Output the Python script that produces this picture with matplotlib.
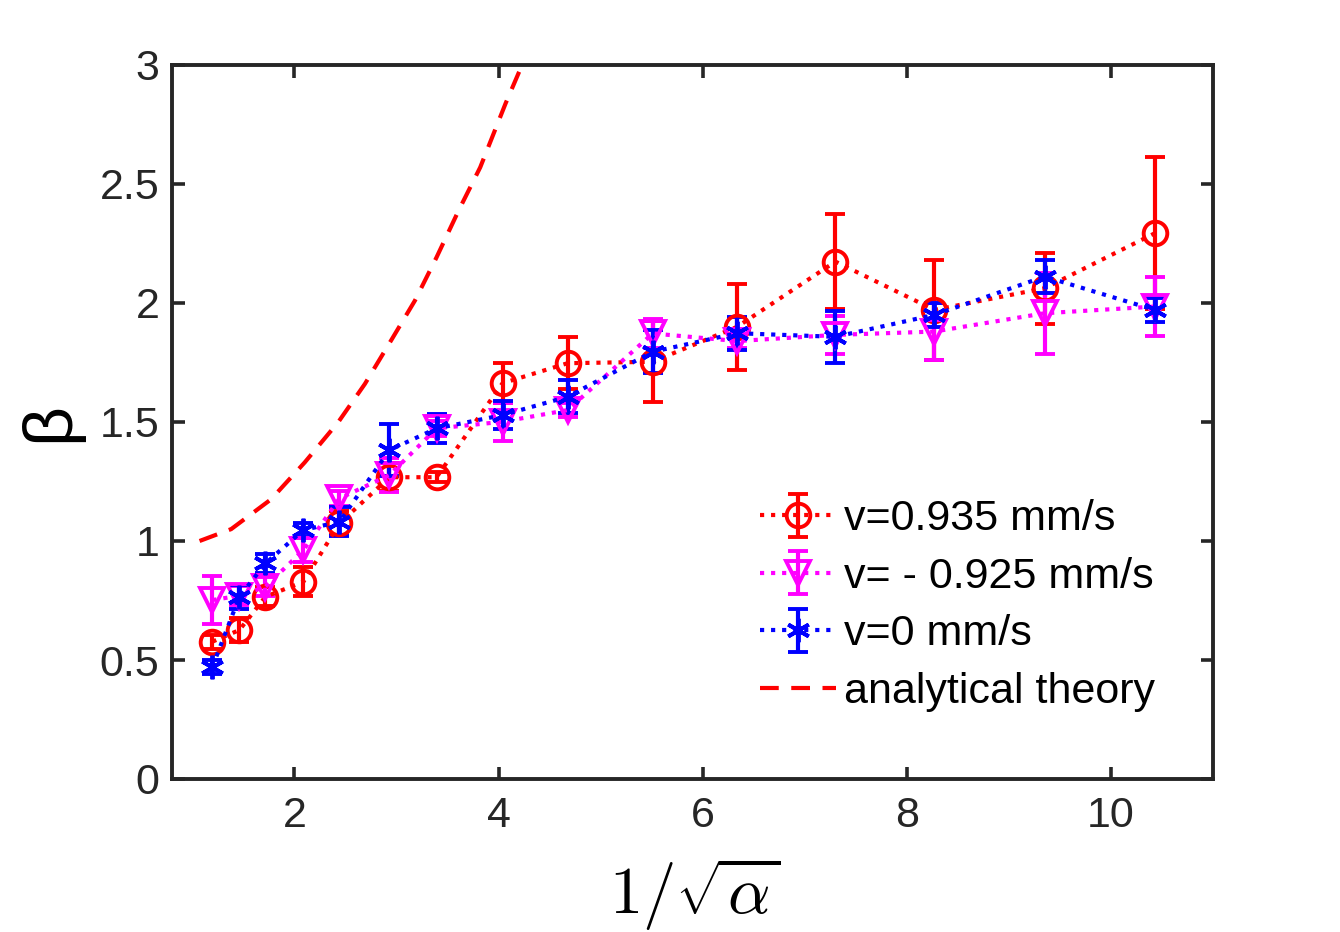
import matplotlib
matplotlib.use("Agg")
import matplotlib.pyplot as plt

# ---- data ----
x_vals = [1.196, 1.461, 1.716, 2.088, 2.441, 2.931, 3.392, 4.039, 4.676, 5.510,
          6.338, 7.300, 8.270, 9.350, 10.430]

beta_pos = [0.577, 0.626, 0.766, 0.829, 1.074, 1.268, 1.268, 1.663, 1.747, 1.753,
            1.900, 2.174, 1.971, 2.062, 2.293]
err_pos = [0.03, 0.05, 0.04, 0.06, 0.05, 0.06, 0.02, 0.085, 0.11, 0.17,
           0.18, 0.20, 0.21, 0.15, 0.32]

beta_neg = [0.752, 0.770, 0.808, 0.962, 1.179, 1.277, 1.473, 1.501, 1.550, 1.872,
            1.840, 1.866, 1.880, 1.957, 1.985]
err_neg = [0.10, 0.04, 0.04, 0.05, 0.03, 0.07, 0.03, 0.08, 0.03, 0.06,
           0.03, 0.08, 0.12, 0.17, 0.125]

beta_zero = [0.472, 0.766, 0.906, 1.046, 1.081, 1.382, 1.473, 1.529, 1.606, 1.795,
             1.873, 1.858, 1.950, 2.111, 1.971]
err_zero = [0.03, 0.05, 0.04, 0.03, 0.06, 0.11, 0.06, 0.06, 0.07, 0.09,
            0.07, 0.11, 0.05, 0.07, 0.05]

theory_x = [1.07, 1.38, 1.77, 2.10, 2.43, 2.69, 2.95, 3.18, 3.39, 3.61, 3.82, 4.07, 4.25]
theory_y = [1.00, 1.05, 1.175, 1.33, 1.50, 1.66, 1.845, 2.01, 2.19, 2.39, 2.57, 2.84, 3.02]

labels = ["v=0.935 mm/s", "v= - 0.925 mm/s", "v=0 mm/s", "analytical theory"]
x_ticks = [2, 4, 6, 8, 10]
y_ticks = [0, 0.5, 1, 1.5, 2, 2.5, 3]
y_ticklabels = ["0", "0.5", "1", "1.5", "2", "2.5", "3"]

# ---- figure ----
plt.rcParams['font.family'] = ['Liberation Sans', 'DejaVu Sans']
plt.rcParams['mathtext.fontset'] = 'cm'

fig = plt.figure(figsize=(13.4, 9.32), dpi=100)
ax = fig.add_axes([172/1340, 1 - 779/932, (1213-172)/1340, (779-65)/932])

common = dict(linestyle=':', linewidth=3.0, elinewidth=3.0, capsize=7, capthick=3.0,
              markersize=17, markeredgewidth=2.8, markerfacecolor='none')

h1 = ax.errorbar(x_vals, beta_pos, yerr=err_pos, color='#ff0000', marker='o',
                 label=labels[0], **common)
h2 = ax.errorbar(x_vals, beta_neg, yerr=err_neg, color='#ff00ff', marker='v',
                 label=labels[1], **common)
h3 = ax.errorbar(x_vals, beta_zero, yerr=err_zero, color='#0000ff', marker=(6, 2, 0),
                 label=labels[2], **common)
h4, = ax.plot(theory_x, theory_y, color='#ff0000', linewidth=3.0, dashes=(4.5, 3),
              label=labels[3])

ax.set_xlim(0.8, 11)
ax.set_ylim(0, 3)
ax.set_xticks(x_ticks)
ax.set_xticklabels([str(t) for t in x_ticks])
ax.set_yticks(y_ticks)
ax.set_yticklabels(y_ticklabels)

dark = '#262626'
for s in ax.spines.values():
    s.set_linewidth(2.8)
    s.set_color(dark)
ax.tick_params(direction='in', length=9, width=2.6, colors=dark, labelsize=31,
               top=True, right=True, labelcolor=dark)
ax.tick_params(axis='x', pad=12)
ax.tick_params(axis='y', pad=9)

fig.text(695/1340, 1 - 893/932, r'$1/\sqrt{\alpha}$', fontsize=48,
         ha='center', va='center', color='black')
fig.text(50/1340, 1 - 422/932, 'β', fontsize=50, rotation=90,
         ha='center', va='center', color='black')

leg = ax.legend([h1, h2, h3, h4], labels, loc='upper left',
                bbox_to_anchor=(0.565, 0.392), frameon=False,
                fontsize=31, handlelength=1.75, handletextpad=0.2,
                labelspacing=0.41, borderpad=0, borderaxespad=0)
for t in leg.get_texts():
    t.set_color('black')

fig.savefig('out.png', dpi=100)
